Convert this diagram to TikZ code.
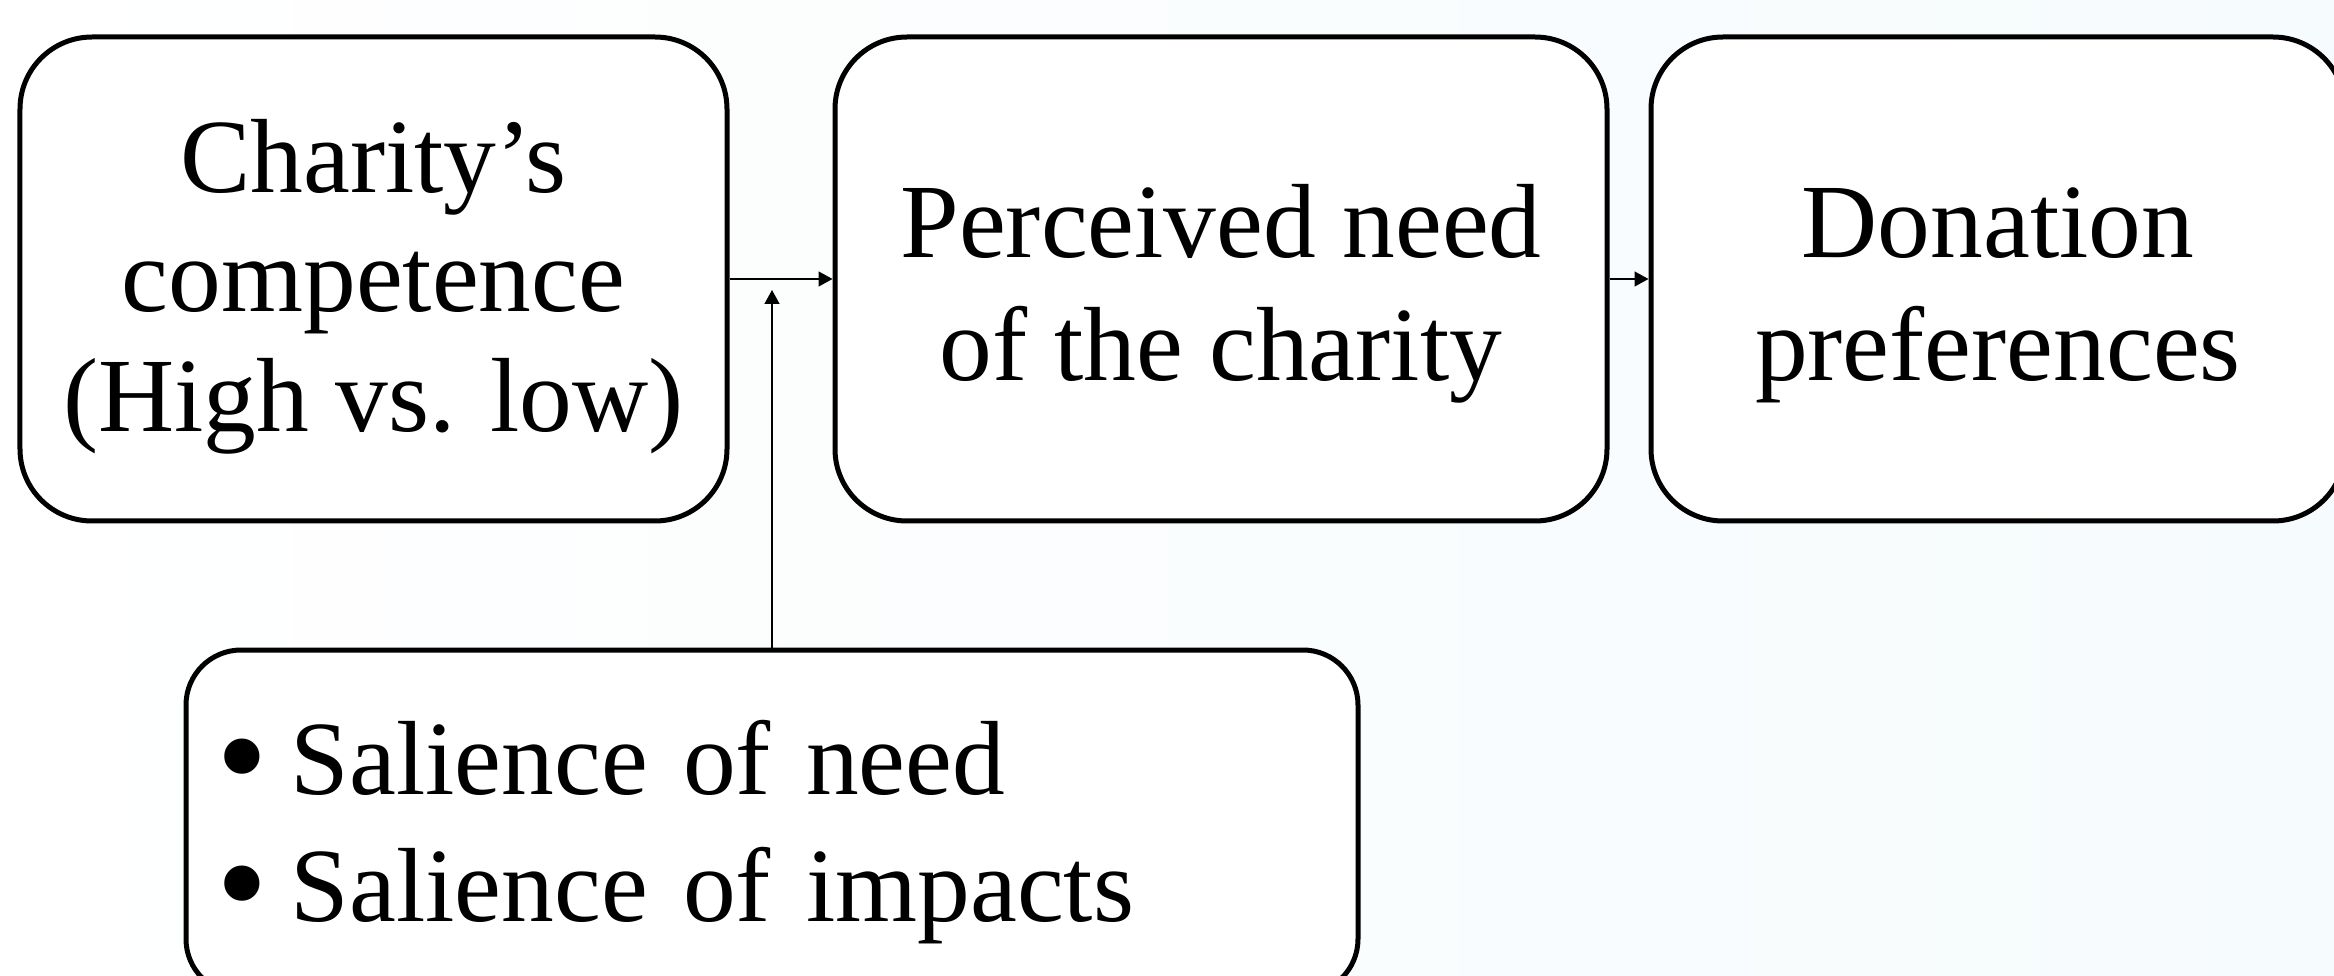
\documentclass[tikz,border=0pt]{standalone}
\usepackage{fontspec}
\setmainfont{Liberation Serif}
\usetikzlibrary{arrows.meta}
\definecolor{paleblue}{RGB}{246,251,253}
\newcommand{\dropstrut}[1]{\rule{0pt}{#1}}
\newcommand{\bigdot}{\smash{\fontsize{42}{42}\selectfont\raisebox{-3pt}{\textbullet}}}
\begin{document}
\begin{tikzpicture}[
    box/.style={draw, line width=0.05cm, fill=white, rounded corners=0.72cm, align=center,
                minimum height=4.84cm, font=\fontsize{30}{35}\selectfont},
    arr/.style={line width=0.04em, -{Triangle[length=0.14cm,width=0.15cm]}}
  ]
    \useasboundingbox (0,0) rectangle (23.34,-9.76);
    \shade[left color=white, right color=paleblue] (0,0) rectangle (23.34,-9.76);
    \node[box, minimum width=7.07cm, font=\fontsize{30}{34}\selectfont] (comp) at (3.735,-2.79)
          {\dropstrut{25pt}Charity’s\\competence\\(High vs. low)};
    \node[box, minimum width=7.72cm] (need) at (12.21,-2.79) {\dropstrut{29pt}Perceived need\\of the charity};
    \node[box, minimum width=6.94cm] (don) at (19.98,-2.79) {\dropstrut{29pt}Donation\\preferences};
    \node[draw, line width=0.05cm, fill=white, rounded corners=0.55cm, minimum height=3.44cm,
          text width=11.12cm, inner xsep=0.30cm, align=left,
          font=\fontsize{30}{36}\selectfont] (sal) at (7.72,-8.22)
          {\dropstrut{27pt}\bigdot\kern0.22em Salience of need\\\bigdot\kern0.22em Salience of impacts};
    \coordinate (join) at (7.72,-2.90);
    \draw[arr] (comp) -- (need);
    \draw[arr] (need) -- (don);
    \draw[arr] (sal) -- (join);
\end{tikzpicture}
\end{document}
